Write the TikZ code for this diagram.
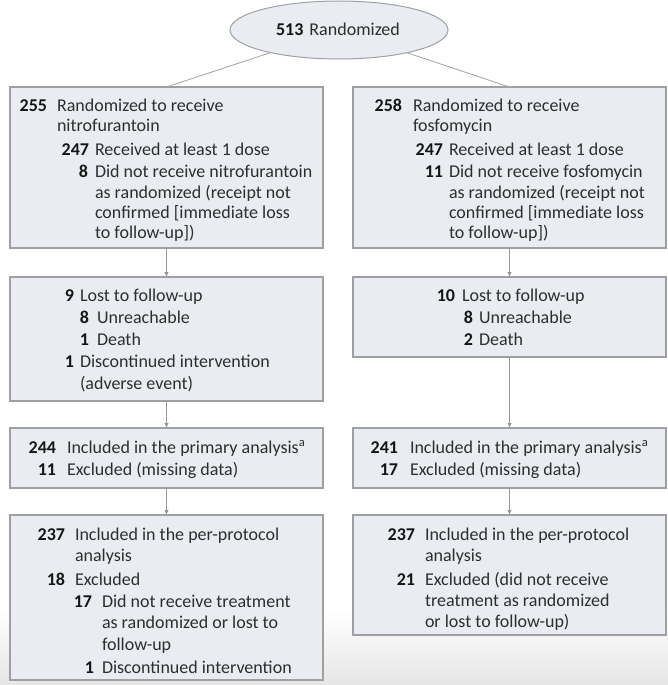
\documentclass[tikz,border=0pt]{standalone}
\usepackage{fontspec}
\setmainfont{Carlito}
\usetikzlibrary{arrows.meta,shapes.geometric}
\definecolor{boxfill}{HTML}{E9ECF0}
\definecolor{boxline}{HTML}{9EA0A3}
\definecolor{linkc}{HTML}{959595}
\definecolor{txtc}{HTML}{2E2E2E}
\definecolor{numc}{HTML}{151515}
\newcommand\nm[2][8pt]{\llap{\textcolor{numc}{\bfseries #2}\hspace{#1}}}
\begin{document}
\begin{tikzpicture}[x=1pt,y=-1pt,
  box/.style={draw=boxline,fill=boxfill,line width=1.2pt,rectangle,anchor=north west,inner sep=0pt,outer sep=0pt},
  oval/.style={draw=boxline,fill=boxfill,line width=1pt,ellipse,inner sep=0pt,outer sep=0pt,minimum width=218pt,minimum height=58pt},
  ln/.style={anchor=base west,inner sep=0pt,outer sep=0pt,text=txtc,font=\fontsize{18}{21}\selectfont},
  link/.style={draw=linkc,line width=0.9pt},
  arr/.style={link,-{Latex[length=5pt,width=4.5pt]}}]
\useasboundingbox (0,0) rectangle (668,685);
\shade[top color=white,bottom color=black!10] (0,610) rectangle (668,685);

% boxes
\node[oval] (rand) at (339,30) {};
\node[box,minimum width=313pt,minimum height=161pt] (b1l) at (10,87) {};
\node[box,minimum width=313pt,minimum height=161pt] (b1r) at (353,87) {};
\node[box,minimum width=313pt,minimum height=124pt] (b2l) at (10,277) {};
\node[box,minimum width=313pt,minimum height=80pt] (b2r) at (353,277) {};
\node[box,minimum width=313pt,minimum height=60pt] (b3l) at (10,428) {};
\node[box,minimum width=313pt,minimum height=60pt] (b3r) at (353,428) {};
\node[box,minimum width=313pt,minimum height=165pt] (b4l) at (10,515) {};
\node[box,minimum width=313pt,minimum height=120pt] (b4r) at (353,515) {};

% connectors
\draw[link,draw=linkc!80] (rand) -- (b1l.north);
\draw[link,draw=linkc!80] (rand) -- (b1r.north);
\draw[arr] (b1l.south) -- (b2l.north);
\draw[arr] (b2l.south) -- (b3l.north);
\draw[arr] (b3l.south) -- (b4l.north);
\draw[arr] (b1r.south) -- (b2r.north);
\draw[arr] (b2r.south) -- (b3r.north);
\draw[arr] (b3r.south) -- (b4r.north);

% ellipse text
\node[ln,anchor=base] (randt) at (338,36) {\textcolor{numc}{\bfseries 513}\hspace{6pt}Randomized};

% box 1 left
\node[ln] (l1a) at (57,111) {\nm[10pt]{255}Randomized to receive};
\node[ln] (l1b) at (57,131) {nitrofurantoin};
\node[ln] (l1c) at (95,155) {\nm[6pt]{247}Received at least 1 dose};
\node[ln] (l1d) at (95,177) {\nm[7pt]{8}Did not receive nitrofurantoin};
\node[ln] (l1e) at (95,198) {as randomized (receipt not};
\node[ln] (l1f) at (95,218) {confirmed [immediate loss};
\node[ln] (l1g) at (95,238) {to follow-up])};

% box 1 right
\node[ln] (r1a) at (413,111) {\nm[11pt]{258}Randomized to receive};
\node[ln] (r1b) at (413,131) {fosfomycin};
\node[ln] (r1c) at (449,155) {\nm[6pt]{247}Received at least 1 dose};
\node[ln] (r1d) at (449,177) {\nm[6pt]{11}Did not receive fosfomycin};
\node[ln] (r1e) at (449,198) {as randomized (receipt not};
\node[ln] (r1f) at (449,218) {confirmed [immediate loss};
\node[ln] (r1g) at (449,238) {to follow-up])};

% box 2 left
\node[ln] (l2a) at (80,301) {\nm[6pt]{9}Lost to follow-up};
\node[ln] (l2b) at (97,323) {\nm[8pt]{8}Unreachable};
\node[ln] (l2c) at (97,345) {\nm[8pt]{1}Death};
\node[ln] (l2d) at (80,367) {\nm[6pt]{1}Discontinued intervention};
\node[ln] (l2e) at (80,389) {(adverse event)};

% box 2 right
\node[ln] (r2a) at (462,301) {\nm[7pt]{10}Lost to follow-up};
\node[ln] (r2b) at (479,323) {\nm[6pt]{8}Unreachable};
\node[ln] (r2c) at (479,345) {\nm[6pt]{2}Death};

% box 3
\node[ln] (l3a) at (67,453) {\nm[11pt]{244}Included in the primary analysis\textsuperscript{a}};
\node[ln] (l3b) at (67,475) {\nm[11pt]{11}Excluded (missing data)};
\node[ln] (r3a) at (410,453) {\nm[12pt]{241}Included in the primary analysis\textsuperscript{a}};
\node[ln] (r3b) at (410,475) {\nm[12pt]{17}Excluded (missing data)};

% box 4 left
\node[ln] (l4a) at (75,540) {\nm[10pt]{237}Included in the per-protocol};
\node[ln] (l4b) at (75,561) {analysis};
\node[ln] (l4c) at (75,585) {\nm[10pt]{18}Excluded};
\node[ln] (l4d) at (102,607) {\nm[10pt]{17}Did not receive treatment};
\node[ln] (l4e) at (102,628) {as randomized or lost to};
\node[ln] (l4f) at (102,650) {follow-up};
\node[ln] (l4g) at (102,673) {\nm[8pt]{1}Discontinued intervention};

% box 4 right
\node[ln] (r4a) at (425,540) {\nm[10pt]{237}Included in the per-protocol};
\node[ln] (r4b) at (425,561) {analysis};
\node[ln] (r4c) at (425,585) {\nm[10pt]{21}Excluded (did not receive};
\node[ln] (r4d) at (425,606) {treatment as randomized};
\node[ln] (r4e) at (425,627) {or lost to follow-up)};
\end{tikzpicture}
\end{document}
